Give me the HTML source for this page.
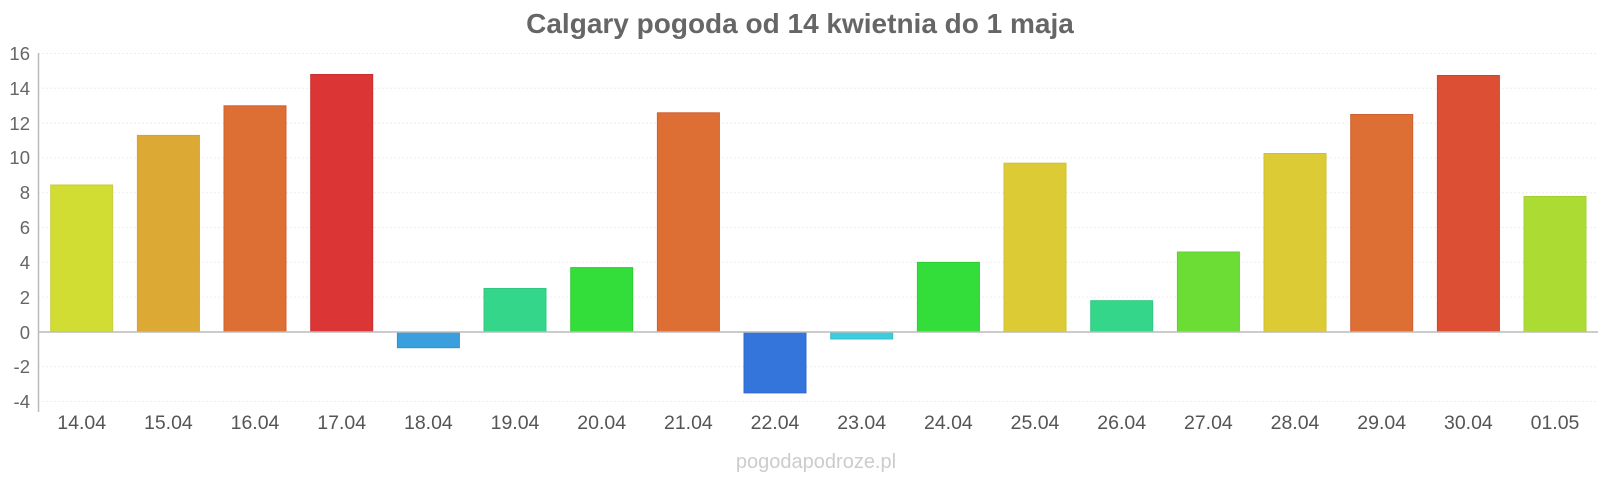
<!DOCTYPE html>
<html><head><meta charset="utf-8"><style>
body{margin:0;background:#fff;}
svg{display:block;font-family:"Liberation Sans",Arial,sans-serif;}
</style></head><body>
<svg width="1600" height="480" viewBox="0 0 1600 480">
<text x="800" y="33" text-anchor="middle" font-size="28" font-weight="bold" fill="#666">Calgary pogoda od 14 kwietnia do 1 maja</text>
<g stroke="#eee" stroke-width="1" stroke-dasharray="2,2">
<line x1="38" x2="1598" y1="53.5" y2="53.5"/>
<line x1="38" x2="1598" y1="88.3" y2="88.3"/>
<line x1="38" x2="1598" y1="123.1" y2="123.1"/>
<line x1="38" x2="1598" y1="157.9" y2="157.9"/>
<line x1="38" x2="1598" y1="192.7" y2="192.7"/>
<line x1="38" x2="1598" y1="227.5" y2="227.5"/>
<line x1="38" x2="1598" y1="262.3" y2="262.3"/>
<line x1="38" x2="1598" y1="297.1" y2="297.1"/>
<line x1="38" x2="1598" y1="366.7" y2="366.7"/>
<line x1="38" x2="1598" y1="401.5" y2="401.5"/>
</g>
<g font-size="18.5" fill="#666" text-anchor="end">
<text x="30" y="60">16</text><text x="30" y="95">14</text><text x="30" y="130">12</text>
<text x="30" y="164">10</text><text x="30" y="199">8</text><text x="30" y="234">6</text>
<text x="30" y="269">4</text><text x="30" y="304">2</text><text x="30" y="339">0</text>
<text x="30" y="373">-2</text><text x="30" y="408">-4</text>
</g>
<g stroke-width="1">
<rect x="50.7" y="185" width="62" height="147" fill="#d1dd33" stroke="#c8cc40"/>
<rect x="137.4" y="135.4" width="62" height="196.6" fill="#dca935" stroke="#d0a040"/>
<rect x="224" y="105.8" width="62" height="226.2" fill="#dd6f34" stroke="#d06030"/>
<rect x="310.7" y="74.5" width="62" height="257.5" fill="#db3535" stroke="#c83030"/>
<rect x="397.4" y="332" width="62" height="15.7" fill="#3a9fdc" stroke="#3590d0"/>
<rect x="484" y="288.5" width="62" height="43.5" fill="#34d68a" stroke="#30c880"/>
<rect x="570.7" y="267.6" width="62" height="64.4" fill="#33dd3a" stroke="#30cc35"/>
<rect x="657.4" y="112.8" width="62" height="219.2" fill="#dd6f34" stroke="#d06030"/>
<rect x="744" y="332" width="62" height="60.9" fill="#3475dc" stroke="#3068d0"/>
<rect x="830.7" y="332" width="62" height="7" fill="#3acddc" stroke="#35c0d0"/>
<rect x="917.4" y="262.4" width="62" height="69.6" fill="#33dd3a" stroke="#30cc35"/>
<rect x="1004" y="163.2" width="62" height="168.8" fill="#dccb34" stroke="#d0c030"/>
<rect x="1090.7" y="300.7" width="62" height="31.3" fill="#34d68a" stroke="#30c880"/>
<rect x="1177.4" y="252" width="62" height="80" fill="#6bdd34" stroke="#60d030"/>
<rect x="1264" y="153.5" width="62" height="178.5" fill="#dccb34" stroke="#d0c030"/>
<rect x="1350.7" y="114.5" width="62" height="217.5" fill="#dd6f34" stroke="#d06030"/>
<rect x="1437.4" y="75.5" width="62" height="256.5" fill="#dc4f34" stroke="#d04030"/>
<rect x="1524" y="196.5" width="62" height="135.5" fill="#acdc34" stroke="#a0d030"/>
</g>
<line x1="38" x2="1598" y1="332" y2="332" stroke="#bbb" stroke-width="1.5"/>
<line x1="38.5" x2="38.5" y1="53" y2="412" stroke="#bbb" stroke-width="1.5"/>
<g font-size="19.5" fill="#555" text-anchor="middle">
<text x="81.7" y="429">14.04</text><text x="168.4" y="429">15.04</text><text x="255" y="429">16.04</text>
<text x="341.7" y="429">17.04</text><text x="428.4" y="429">18.04</text><text x="515" y="429">19.04</text>
<text x="601.7" y="429">20.04</text><text x="688.4" y="429">21.04</text><text x="775" y="429">22.04</text>
<text x="861.7" y="429">23.04</text><text x="948.4" y="429">24.04</text><text x="1035" y="429">25.04</text>
<text x="1121.7" y="429">26.04</text><text x="1208.4" y="429">27.04</text><text x="1295" y="429">28.04</text>
<text x="1381.7" y="429">29.04</text><text x="1468.4" y="429">30.04</text><text x="1555" y="429">01.05</text>
</g>
<text x="816" y="468" text-anchor="middle" font-size="20" fill="#ccc">pogodapodroze.pl</text>
</svg>
</body></html>
